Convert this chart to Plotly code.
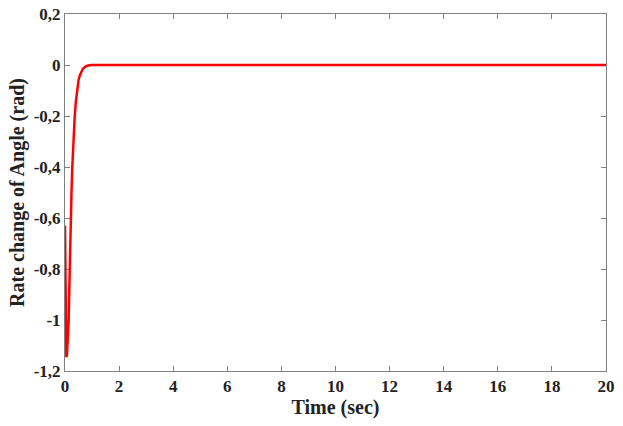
import plotly.graph_objects as go

# Data
time_sec = [0, 0.01, 0.03, 0.05, 0.07, 0.09, 0.11, 0.136, 0.155, 0.17, 0.19, 0.21, 0.24, 0.27, 0.3, 0.33, 0.36, 0.4, 0.44, 0.5, 0.55, 0.6, 0.65, 0.7, 0.8, 0.9, 1.0, 5, 10, 15, 20]
rate_angle = [-0.63, -0.85, -1.08, -1.145, -1.14, -1.11, -1.06, -1.0, -0.9, -0.8, -0.7, -0.6, -0.5, -0.4, -0.32, -0.255, -0.2, -0.145, -0.1, -0.06, -0.04, -0.026, -0.017, -0.011, -0.004, -0.001, 0, 0, 0, 0, 0]

x_ticks = [0, 2, 4, 6, 8, 10, 12, 14, 16, 18, 20]
y_ticks = [0.2, 0, -0.2, -0.4, -0.6, -0.8, -1, -1.2]
y_tick_text = ["0,2", "0", "-0,2", "-0,4", "-0,6", "-0,8", "-1", "-1,2"]

fig = go.Figure()
fig.add_trace(go.Scatter(x=time_sec, y=rate_angle, mode="lines",
                         line=dict(color="#ff0000", width=2.5),
                         showlegend=False))

fam = "Liberation Serif, Times New Roman, serif"
axis_common = dict(showline=True, linecolor="#808080", linewidth=1, mirror="ticks",
                   ticks="inside", ticklen=5, tickcolor="#808080", showgrid=False,
                   zeroline=False, automargin=False, layer="below traces",
                   tickfont=dict(family=fam, size=17, color="#222222"))

fig.update_xaxes(range=[0, 20], tickvals=x_ticks, ticktext=["<b>%s</b>" % v for v in x_ticks],
                 title=dict(text="<b>Time (sec)</b>", font=dict(family=fam, size=20, color="#222222"), standoff=4),
                 **axis_common)
fig.update_yaxes(range=[-1.2, 0.2], tickvals=y_ticks, ticktext=["<b>%s</b>" % v for v in y_tick_text],
                 title=dict(text="<b>Rate change of Angle (rad)</b>", font=dict(family=fam, size=20, color="#222222"), standoff=3),
                 **axis_common)

fig.update_layout(width=623, height=426, margin=dict(l=65, r=17, t=14, b=55),
                  plot_bgcolor="white", paper_bgcolor="white")
fig.write_html("out.html", config={"displayModeBar": False},
               post_script="document.body.style.margin='0';document.body.style.padding='0';")
